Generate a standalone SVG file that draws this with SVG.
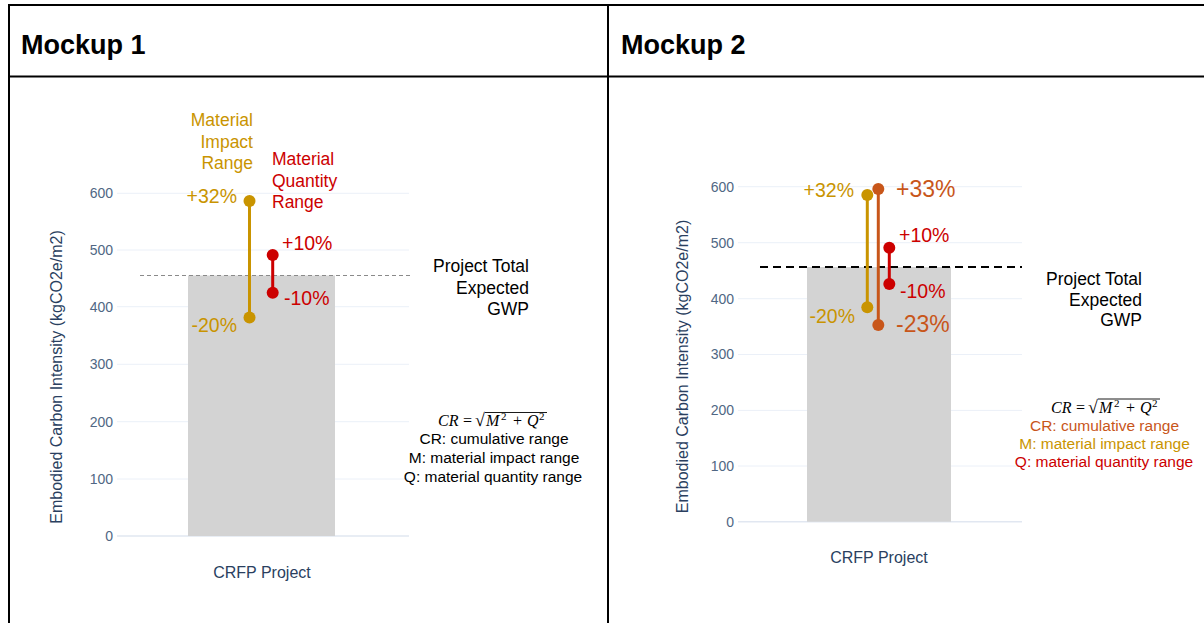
<svg xmlns="http://www.w3.org/2000/svg" width="1204" height="623" viewBox="0 0 1204 623">
<style>
  .hdr { font-family: "Liberation Sans", Arial, sans-serif; font-weight: bold; font-size: 27px; fill: #000; }
  .tick { font-family: "Liberation Sans", Arial, sans-serif; font-size: 14px; fill: #506784; text-anchor: end; }
  .axt { font-family: "Liberation Sans", Arial, sans-serif; font-size: 16px; fill: #2a3f5f; text-anchor: middle; }
  .grid { stroke: #ebf0f8; stroke-width: 1; }
  .bar { fill: #d3d3d3; }
  .lbl { font-family: "Liberation Sans", Arial, sans-serif; font-size: 17.5px; }
  .pct { font-family: "Liberation Sans", Arial, sans-serif; font-size: 19.5px; }
  .big { font-family: "Liberation Sans", Arial, sans-serif; font-size: 23px; }
  .note { font-family: "Liberation Sans", Arial, sans-serif; font-size: 15.5px; text-anchor: middle; }
  .math { font-family: "Liberation Serif", "Times New Roman", serif; font-size: 16px; fill: #000; }
  .it { font-style: italic; }
  .sup { font-size: 11px; }
  .gold { fill: #c99400; }
  .red { fill: #cc0000; }
  .org { fill: #c8561a; }
  .blk { fill: #000; }
  .r { text-anchor: end; }
</style>

<g id="table">
  <line x1="8" y1="5" x2="1204" y2="5" stroke="#000" stroke-width="2"/>
  <line x1="8" y1="76.5" x2="1204" y2="76.5" stroke="#000" stroke-width="2"/>
  <line x1="9" y1="4" x2="9" y2="623" stroke="#000" stroke-width="2"/>
  <line x1="608" y1="4" x2="608" y2="623" stroke="#000" stroke-width="2"/>
  <text class="hdr" x="21" y="54">Mockup 1</text>
  <text class="hdr" x="621" y="54">Mockup 2</text>
</g>

<!-- Mockup 1 chart -->
<g id="chart1-axes">
  <line class="grid" x1="117" y1="193.3" x2="409" y2="193.3"/>
  <line class="grid" x1="117" y1="250" x2="409" y2="250"/>
  <line class="grid" x1="117" y1="306.7" x2="409" y2="306.7"/>
  <line class="grid" x1="117" y1="364.3" x2="409" y2="364.3"/>
  <line class="grid" x1="117" y1="421.7" x2="409" y2="421.7"/>
  <line class="grid" x1="117" y1="479" x2="409" y2="479"/>
  <line x1="117" y1="536" x2="409" y2="536" stroke="#e1e7f1" stroke-width="1.5"/>
  <text class="tick" x="113" y="198">600</text>
  <text class="tick" x="113" y="255">500</text>
  <text class="tick" x="113" y="312">400</text>
  <text class="tick" x="113" y="369">300</text>
  <text class="tick" x="113" y="427">200</text>
  <text class="tick" x="113" y="484">100</text>
  <text class="tick" x="113" y="541">0</text>
  <text class="axt" transform="translate(62,377) rotate(-90)" font-size="17">Embodied Carbon Intensity (kgCO2e/m2)</text>
  <text class="axt" x="262" y="578">CRFP Project</text>
</g>
<g id="chart1-bar">
  <rect class="bar" x="188" y="275.5" width="147" height="260.5"/>
</g>
<g id="chart1-target">
  <line x1="140" y1="275.5" x2="410" y2="275.5" stroke="#8a8a8a" stroke-width="1.2" stroke-dasharray="4,3"/>
  <text class="lbl blk r" x="529" y="272">Project Total</text>
  <text class="lbl blk r" x="529" y="294">Expected</text>
  <text class="lbl blk r" x="529" y="315">GWP</text>
</g>
<g id="chart1-impact">
  <line x1="249.5" y1="201" x2="249.5" y2="317.5" stroke="#c99400" stroke-width="3"/>
  <circle cx="249.5" cy="201" r="6" fill="#c99400"/>
  <circle cx="249.5" cy="317.5" r="6" fill="#c99400"/>
  <text class="lbl gold r" x="253" y="126">Material</text>
  <text class="lbl gold r" x="253" y="148">Impact</text>
  <text class="lbl gold r" x="253" y="169">Range</text>
  <text class="pct gold r" x="237" y="203">+32%</text>
  <text class="pct gold r" x="237" y="332">-20%</text>
</g>
<g id="chart1-quantity">
  <line x1="272.7" y1="255" x2="272.7" y2="292.7" stroke="#cc0000" stroke-width="3"/>
  <circle cx="272.7" cy="255" r="6" fill="#cc0000"/>
  <circle cx="272.7" cy="292.7" r="6" fill="#cc0000"/>
  <text class="lbl red" x="272" y="165">Material</text>
  <text class="lbl red" x="272" y="187">Quantity</text>
  <text class="lbl red" x="272" y="208">Range</text>
  <text class="pct red" x="282" y="250">+10%</text>
  <text class="pct red" x="284" y="305">-10%</text>
</g>
<g id="chart1-formula">
  <text class="math" y="426"><tspan class="it" x="438">CR</tspan><tspan x="463">=</tspan><tspan x="475" font-size="18">√</tspan><tspan class="it" x="486">M</tspan><tspan class="sup" x="501" dy="-6">2</tspan><tspan x="513" dy="6">+</tspan><tspan class="it" x="527">Q</tspan><tspan class="sup" x="539" dy="-6">2</tspan></text>
  <line x1="485" y1="412.5" x2="547" y2="412.5" stroke="#000" stroke-width="0.9"/>
  <text class="note blk" x="494" y="444">CR: cumulative range</text>
  <text class="note blk" x="494" y="463">M: material impact range</text>
  <text class="note blk" x="493" y="482">Q: material quantity range</text>
</g>

<!-- Mockup 2 chart -->
<g id="chart2-axes">
  <line class="grid" x1="738" y1="186.7" x2="1022" y2="186.7"/>
  <line class="grid" x1="738" y1="242.7" x2="1022" y2="242.7"/>
  <line class="grid" x1="738" y1="298.7" x2="1022" y2="298.7"/>
  <line class="grid" x1="738" y1="354.5" x2="1022" y2="354.5"/>
  <line class="grid" x1="738" y1="410.4" x2="1022" y2="410.4"/>
  <line class="grid" x1="738" y1="466" x2="1022" y2="466"/>
  <line x1="738" y1="521.7" x2="1022" y2="521.7" stroke="#e1e7f1" stroke-width="1.5"/>
  <text class="tick" x="734" y="191.5" font-size="13.5">600</text>
  <text class="tick" x="734" y="247.5" font-size="13.5">500</text>
  <text class="tick" x="734" y="303.5" font-size="13.5">400</text>
  <text class="tick" x="734" y="359.3" font-size="13.5">300</text>
  <text class="tick" x="734" y="415.2" font-size="13.5">200</text>
  <text class="tick" x="734" y="470.8" font-size="13.5">100</text>
  <text class="tick" x="734" y="526.5" font-size="13.5">0</text>
  <text class="axt" transform="translate(688,366.5) rotate(-90)" font-size="16.5">Embodied Carbon Intensity (kgCO2e/m2)</text>
  <text class="axt" x="879" y="563">CRFP Project</text>
</g>
<g id="chart2-bar">
  <rect class="bar" x="807" y="267" width="144" height="254.7"/>
</g>
<g id="chart2-target">
  <line x1="760" y1="267" x2="1022" y2="267" stroke="#000" stroke-width="2" stroke-dasharray="8,5"/>
  <text class="lbl blk r" x="1142" y="285">Project Total</text>
  <text class="lbl blk r" x="1142" y="306">Expected</text>
  <text class="lbl blk r" x="1142" y="326">GWP</text>
</g>
<g id="chart2-impact">
  <line x1="867.3" y1="195" x2="867.3" y2="307.3" stroke="#c99400" stroke-width="3"/>
  <circle cx="867.3" cy="195" r="6" fill="#c99400"/>
  <circle cx="867.3" cy="307.3" r="6" fill="#c99400"/>
  <text class="pct gold r" x="854" y="197">+32%</text>
  <text class="pct gold r" x="855" y="323">-20%</text>
</g>
<g id="chart2-cumulative">
  <line x1="878.3" y1="189" x2="878.3" y2="325" stroke="#c8561a" stroke-width="3"/>
  <circle cx="878.3" cy="189" r="6" fill="#c8561a"/>
  <circle cx="878.3" cy="325" r="6" fill="#c8561a"/>
  <text class="big org" x="896" y="197">+33%</text>
  <text class="big org" x="896" y="332">-23%</text>
</g>
<g id="chart2-quantity">
  <line x1="889.3" y1="247.7" x2="889.3" y2="284" stroke="#cc0000" stroke-width="3"/>
  <circle cx="889.3" cy="247.7" r="6" fill="#cc0000"/>
  <circle cx="889.3" cy="284" r="6" fill="#cc0000"/>
  <text class="pct red" x="899" y="242">+10%</text>
  <text class="pct red" x="900" y="298">-10%</text>
</g>
<g id="chart2-formula">
  <text class="math" y="412.5"><tspan class="it" x="1051">CR</tspan><tspan x="1076">=</tspan><tspan x="1088" font-size="18">√</tspan><tspan class="it" x="1099">M</tspan><tspan class="sup" x="1114" dy="-6">2</tspan><tspan x="1126" dy="6">+</tspan><tspan class="it" x="1140">Q</tspan><tspan class="sup" x="1152" dy="-6">2</tspan></text>
  <line x1="1098" y1="399" x2="1160" y2="399" stroke="#000" stroke-width="0.9"/>
  <text class="note org" x="1104.5" y="431">CR: cumulative range</text>
  <text class="note gold" x="1104.5" y="449">M: material impact range</text>
  <text class="note red" x="1104" y="467">Q: material quantity range</text>
</g>
</svg>
